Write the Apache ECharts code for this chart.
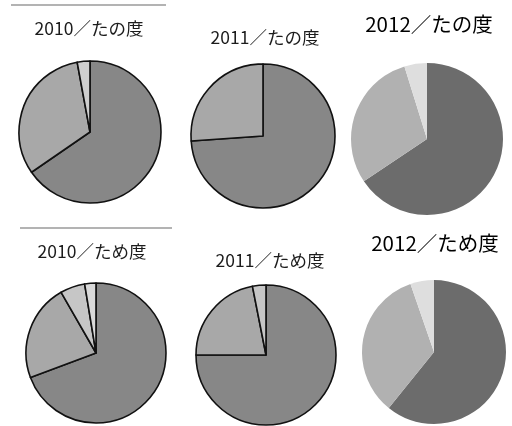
<!DOCTYPE html>
<html>
<head>
<meta charset="utf-8">
<script src="https://cdn.jsdelivr.net/npm/echarts@6/dist/echarts.min.js"></script>
<style>
html,body{margin:0;padding:0;background:#fff;}
#chart{width:512px;height:426px;}
</style>
</head>
<body>
<div id="chart"></div>
<script>
// Data (percent shares, clockwise from 12 o'clock)
const categories = ['A', 'B', 'C', 'D'];
const titles = ['2010／たの度', '2011／たの度', '2012／たの度', '2010／ため度', '2011／ため度', '2012／ため度'];
const tano2010 = [65.4, 31.7, 2.9];
const tano2011 = [73.9, 26.1];
const tano2012 = [65.6, 29.6, 4.8];
const tame2010 = [69.3, 22.4, 5.7, 2.6];
const tame2011 = [75.0, 21.9, 3.1];
const tame2012 = [60.8, 33.9, 5.3];

const seriesValues = [tano2010, tano2011, tano2012, tame2010, tame2011, tame2012];

// Layout / style (kept separate from data)
const layouts = [
  { c: [90, 132], r: 71, bordered: true, tx: 89, ty: 28, fs: 17.5, tc: '#1c1c1c' },
  { c: [263, 136], r: 72, bordered: true, tx: 265, ty: 37, fs: 17.5, tc: '#1c1c1c' },
  { c: [427, 139], r: 76, bordered: false, tx: 429, ty: 24, fs: 20.5, tc: '#000' },
  { c: [96, 353], r: 70, bordered: true, tx: 92, ty: 251, fs: 17.5, tc: '#1c1c1c' },
  { c: [266, 355], r: 70, bordered: true, tx: 270, ty: 260, fs: 17.5, tc: '#1c1c1c' },
  { c: [434, 352], r: 72, bordered: false, tx: 435, ty: 243, fs: 20.5, tc: '#000' }
];
const borderedColors = ['#878787', '#a8a8a8', '#c6c6c6', '#d9d9d9'];
const borderedColors2010top = ['#878787', '#a8a8a8', '#cfcfcf'];
const flatColors = ['#6c6c6c', '#b1b1b1', '#dedede'];

const FONT = '"Noto Sans CJK JP", "Noto Sans", sans-serif';

const series = seriesValues.map((vals, i) => {
  const L = layouts[i];
  const palette = L.bordered ? (i === 0 ? borderedColors2010top : borderedColors) : flatColors;
  return {
    type: 'pie',
    center: L.c,
    radius: [0, L.r],
    startAngle: 90,
    clockwise: true,
    animation: false,
    silent: true,
    label: { show: false },
    labelLine: { show: false },
    emphasis: { disabled: true },
    itemStyle: L.bordered ? { borderColor: '#111', borderWidth: 1.6 } : { borderWidth: 0 },
    data: vals.map((v, k) => ({ name: categories[k], value: v, itemStyle: { color: palette[k] } }))
  };
});

const graphic = titles.map((t, i) => ({
  type: 'text',
  x: layouts[i].tx,
  y: layouts[i].ty,
  style: {
    text: t,
    align: 'center',
    verticalAlign: 'middle',
    font: layouts[i].fs + 'px ' + FONT,
    fill: layouts[i].tc
  }
}));
graphic.push({ type: 'line', shape: { x1: 11, y1: 5, x2: 166, y2: 5 }, style: { stroke: '#9a9a9a', lineWidth: 1.5 } });
graphic.push({ type: 'line', shape: { x1: 20, y1: 228, x2: 172, y2: 228 }, style: { stroke: '#9a9a9a', lineWidth: 1.5 } });

const chart = echarts.init(document.getElementById('chart'), null, { renderer: 'canvas' });
chart.setOption({
  backgroundColor: '#fff',
  animation: false,
  series: series,
  graphic: graphic
});
</script>
</body>
</html>
